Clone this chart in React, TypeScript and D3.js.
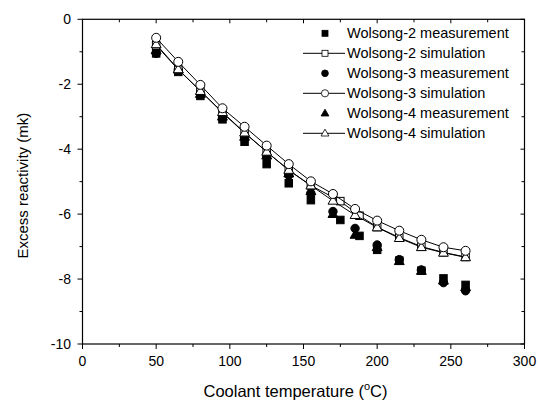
import React from "react";
import * as d3 from "d3";

const xW3 = [50, 65, 80, 95, 110, 125, 140, 155, 170, 185, 200, 215, 230, 245, 260];
const xW4 = [50, 65, 80, 95, 110, 125, 140, 155, 170, 185, 200, 215, 230, 245, 260];
const xW2 = [50, 65, 80, 95, 110, 125, 140, 155, 175, 188, 200, 215, 230, 245, 260];

const w2Meas = [-1.05, -1.62, -2.36, -3.08, -3.77, -4.46, -5.05, -5.57, -6.18, -6.67, -7.1, -7.43, -7.74, -7.98, -8.18];
const w2Sim = [-0.8, -1.55, -2.2, -2.88, -3.5, -4.08, -4.65, -5.12, -5.6, -6.05, -6.4, -6.72, -7.0, -7.18, -7.32];
const w3Meas = [-1.05, -1.56, -2.3, -3.05, -3.65, -4.25, -4.8, -5.36, -5.92, -6.44, -6.95, -7.4, -7.72, -8.11, -8.36];
const w3Sim = [-0.57, -1.31, -2.02, -2.74, -3.31, -3.89, -4.46, -4.99, -5.38, -5.84, -6.2, -6.51, -6.79, -7.02, -7.13];
const w4Meas = [-0.95, -1.55, -2.3, -3.0, -3.62, -4.2, -4.75, -5.3, -6.0, -6.64, -7.02, -7.45, -7.75, -8.05, -8.25];
const w4Sim = [-0.77, -1.54, -2.21, -2.86, -3.49, -4.08, -4.64, -5.12, -5.59, -6.03, -6.41, -6.74, -7.02, -7.19, -7.33];

const legendLabels = [
  "Wolsong-2 measurement",
  "Wolsong-2 simulation",
  "Wolsong-3 measurement",
  "Wolsong-3 simulation",
  "Wolsong-4 measurement",
  "Wolsong-4 simulation",
];
const xTicks = [0, 50, 100, 150, 200, 250, 300];
const yTicks = [0, -2, -4, -6, -8, -10];

const W = 538, H = 400;
const left = 82.5, right = 524.5, top = 19.3, bottom = 344;
const FONT = "Liberation Sans, Arial, sans-serif";

type Shape = "square" | "circle" | "triangle";

function Marker({ shape, x, y, filled }: { shape: Shape; x: number; y: number; filled: boolean }) {
  const fill = filled ? "#000" : "#fff";
  if (shape === "square") {
    const s = 7.5;
    return <rect x={x - s / 2} y={y - s / 2} width={s} height={s} fill={fill} stroke="#000" strokeWidth={1} />;
  }
  if (shape === "circle") {
    return <circle cx={x} cy={y} r={filled ? 4.2 : 4.5} fill={fill} stroke="#000" strokeWidth={1} />;
  }
  const r = 5.2;
  const p = `M${x},${y - r} L${x + r * 0.95},${y + r * 0.65} L${x - r * 0.95},${y + r * 0.65} Z`;
  return <path d={p} fill={fill} stroke="#000" strokeWidth={1} />;
}

export default function App() {
  const xs = d3.scaleLinear().domain([0, 300]).range([left, right]);
  const ys = d3.scaleLinear().domain([-10, 0]).range([bottom, top]);
  const line = d3
    .line<[number, number]>()
    .x((d) => xs(d[0]))
    .y((d) => ys(d[1]));

  const series: { x: number[]; y: number[]; shape: Shape; filled: boolean }[] = [
    { x: xW2, y: w2Meas, shape: "square", filled: true },
    { x: xW3, y: w3Meas, shape: "circle", filled: true },
    { x: xW4, y: w4Meas, shape: "triangle", filled: true },
    { x: xW2, y: w2Sim, shape: "square", filled: false },
    { x: xW4, y: w4Sim, shape: "triangle", filled: false },
    { x: xW3, y: w3Sim, shape: "circle", filled: false },
  ];

  const xMinor = d3.range(0, 301, 25);
  const yMinor = d3.range(-10, 0.01, 1);

  const legendShapes: { shape: Shape; filled: boolean }[] = [
    { shape: "square", filled: true },
    { shape: "square", filled: false },
    { shape: "circle", filled: true },
    { shape: "circle", filled: false },
    { shape: "triangle", filled: true },
    { shape: "triangle", filled: false },
  ];

  return (
    <svg width={W} height={H} style={{ position: "absolute", left: 0, top: 0, background: "#fff" }} fontFamily={FONT}>
      <rect x={0} y={0} width={W} height={H} fill="#fff" />
      <rect x={left} y={top} width={right - left} height={bottom - top} fill="none" stroke="#000" strokeWidth={1.2} />
      {xMinor.map((t) => {
        const major = t % 50 === 0;
        return (
          <g key={"xb" + t}>
            <line x1={xs(t)} x2={xs(t)} y1={bottom} y2={bottom + (major ? 5 : 3)} stroke="#000" strokeWidth={1} />
            <line x1={xs(t)} x2={xs(t)} y1={top} y2={top + (major ? 4 : 3)} stroke="#000" strokeWidth={1} />
          </g>
        );
      })}
      {yMinor.map((t) => {
        const major = Math.round(t) % 2 === 0;
        return (
          <g key={"yl" + t}>
            <line x1={left} x2={left - (major ? 5 : 3)} y1={ys(t)} y2={ys(t)} stroke="#000" strokeWidth={1} />
            <line x1={right} x2={right - (major ? 4 : 3)} y1={ys(t)} y2={ys(t)} stroke="#000" strokeWidth={1} />
          </g>
        );
      })}
      {xTicks.map((t) => (
        <text key={"xl" + t} x={xs(t)} y={bottom + 22} textAnchor="middle" fontSize={14}>
          {t}
        </text>
      ))}
      {yTicks.map((t) => (
        <text key={"yt" + t} x={left - 11.5} y={ys(t) + 5} textAnchor="end" fontSize={14}>
          {t}
        </text>
      ))}
      <text x={(left + right) / 2 - 8} y={397} textAnchor="middle" fontSize={16.5}>
        Coolant temperature (<tspan dy={-7} fontSize={11}>o</tspan>
        <tspan dy={7}>C)</tspan>
      </text>
      <text transform={`translate(28,${(top + bottom) / 2 + 4}) rotate(-90)`} textAnchor="middle" fontSize={15}>
        Excess reactivity (mk)
      </text>

      {series.map((s, i) => (
        <g key={"s" + i}>
          {!s.filled && (
            <path d={line(s.x.map((xv, j) => [xv, s.y[j]] as [number, number])) || ""} fill="none" stroke="#000" strokeWidth={1} />
          )}
          {s.x.map((xv, j) => (
            <Marker key={j} shape={s.shape} x={xs(xv)} y={ys(s.y[j])} filled={s.filled} />
          ))}
        </g>
      ))}

      {legendLabels.map((lab, i) => {
        const cy = 33.3 + i * 20;
        const ls = legendShapes[i];
        return (
          <g key={"lg" + i}>
            {!ls.filled && <line x1={303} x2={345} y1={cy} y2={cy} stroke="#000" strokeWidth={1} />}
            <g transform={`translate(${325},${cy}) scale(0.8) translate(${-325},${-cy})`}>
              <Marker shape={ls.shape} x={325} y={cy} filled={ls.filled} />
            </g>
            <text x={347} y={cy + 5} fontSize={14.5}>
              {lab}
            </text>
          </g>
        );
      })}
    </svg>
  );
}
